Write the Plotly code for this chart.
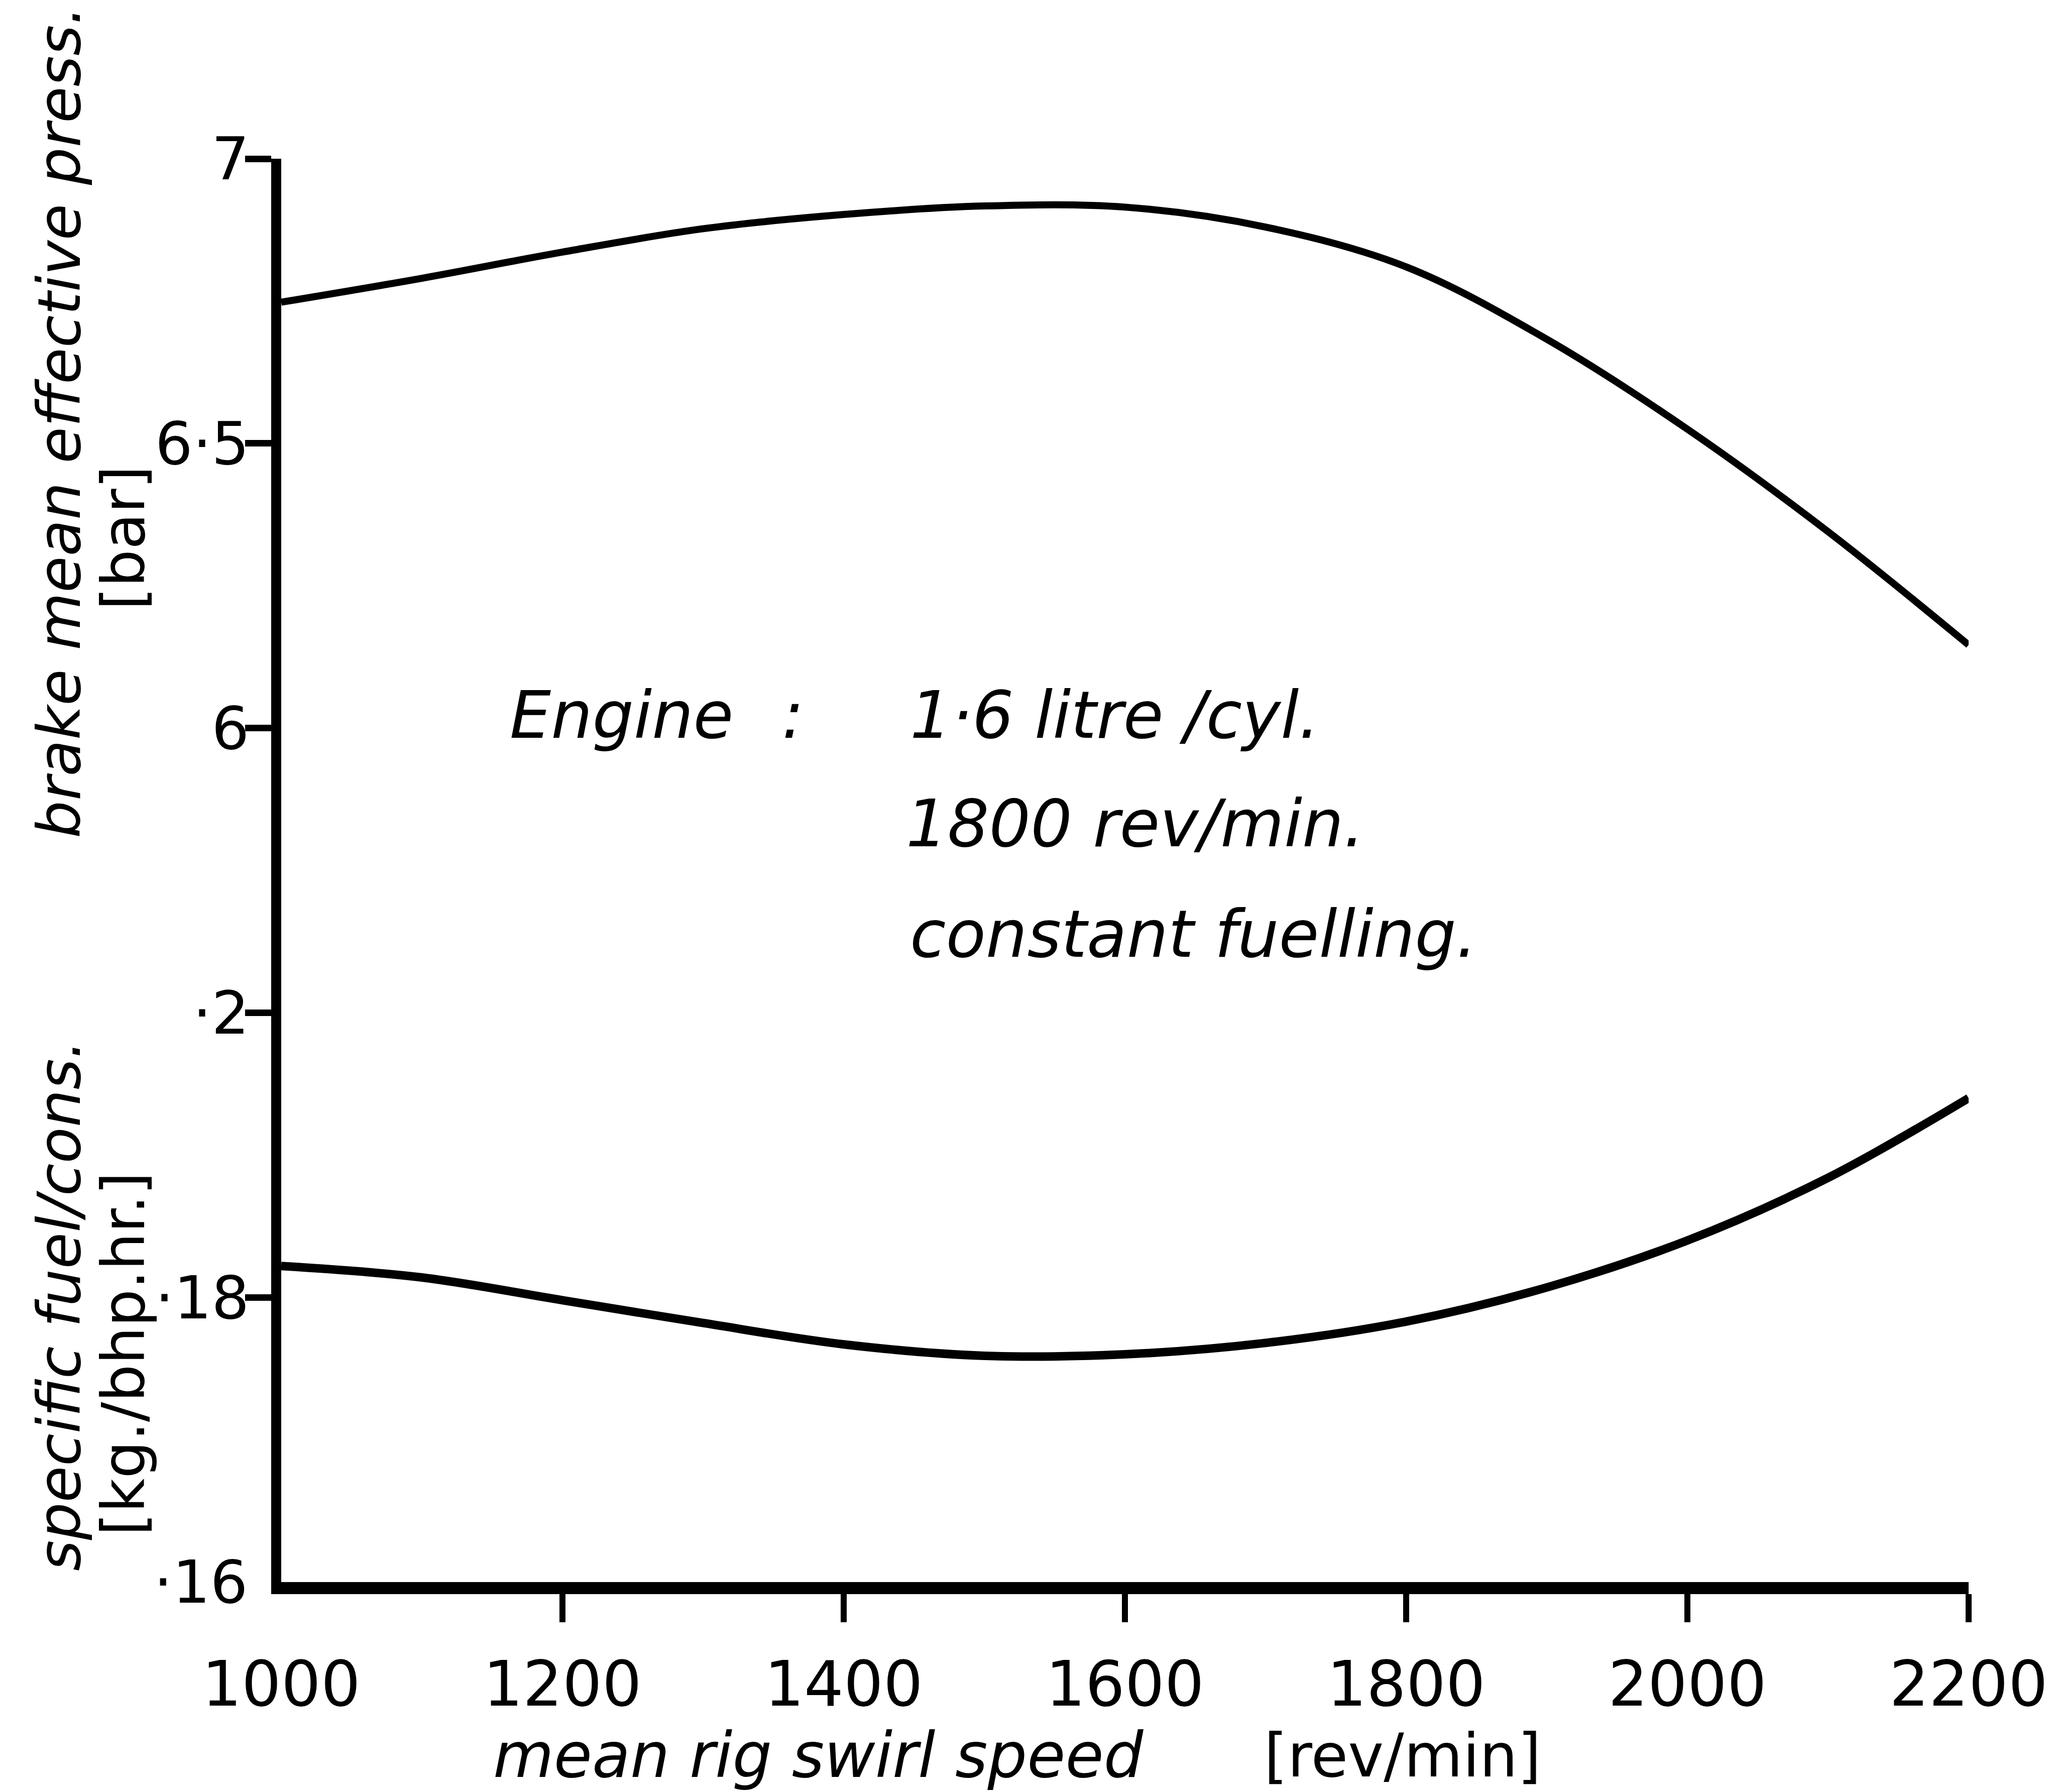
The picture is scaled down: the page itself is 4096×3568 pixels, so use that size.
import plotly.graph_objects as go

# Engine test: 1.6 litre/cyl, 1800 rev/min, constant fuelling
rpm = [1000, 1100, 1200, 1300, 1400, 1500, 1600, 1700, 1800, 1900, 2000, 2100, 2200]
bmep = [6.748, 6.790, 6.836, 6.877, 6.902, 6.917, 6.915, 6.880, 6.810, 6.683, 6.525, 6.345, 6.146]
sfc = [0.1822, 0.1814, 0.1798, 0.1782, 0.1767, 0.1759, 0.1760, 0.1768, 0.1783, 0.1807, 0.1840, 0.1884, 0.1940]

x_ticks = [1000, 1200, 1400, 1600, 1800, 2000, 2200]
x_labels = ["1000", "1200", "1400", "1600", "1800", "2000", "2200"]
bmep_ticks = [6, 6.5, 7]
bmep_labels = ["6", "6·5", "7"]
sfc_ticks = [0.18, 0.2]
sfc_labels = ["·18", "·2"]
sfc_base = 0.16
sfc_base_label = "·16"

FONT = "DejaVu Sans"
W, H = 4096, 3568
L, R, T, B = 560, 3920, 316, 3150
AXIS_W = 20
Y_TICKLEN = 52
Y_STANDOFF = -32


def px(xp):
    return (xp - L) / (R - L)


def py(yp):
    return (B - yp) / (B - T)


fig = go.Figure()
fig.add_trace(go.Scatter(
    x=rpm, y=bmep, mode="lines", xaxis="x", yaxis="y",
    line=dict(color="black", width=14, shape="spline", smoothing=1.0),
    showlegend=False, hoverinfo="skip"))
fig.add_trace(go.Scatter(
    x=rpm, y=sfc, mode="lines", xaxis="x2", yaxis="y2",
    line=dict(color="black", width=17, shape="spline", smoothing=1.0),
    showlegend=False, hoverinfo="skip"))

axis_common = dict(showgrid=False, zeroline=False, linecolor="black", tickcolor="black")

annotations = [
    # axis titles
    dict(text="<i>brake mean effective press.</i>", x=px(118), y=py(841), textangle=-90,
         font=dict(size=118)),
    dict(text="[bar]", x=px(246), y=py(1071), textangle=-90, font=dict(size=118)),
    dict(text="<i>specific fuel/cons.</i>", x=px(118), y=py(2599), textangle=-90,
         font=dict(size=118)),
    dict(text="[kg./bhp.hr.]", x=px(246), y=py(2696), textangle=-90, font=dict(size=118)),
    dict(text="<i>mean rig swirl speed</i>", x=px(980), y=py(3495), xanchor="left",
         font=dict(size=124)),
    dict(text="[rev/min]", x=px(2515), y=py(3495), xanchor="left", font=dict(size=120)),
    # engine details
    dict(text="<i>Engine</i>", x=px(1013), y=py(1424), xanchor="left", font=dict(size=130)),
    dict(text="<i>:</i>", x=px(1555), y=py(1424), xanchor="left", font=dict(size=130)),
    dict(text="<i>1·6 litre /cyl.</i>", x=px(1810), y=py(1424), xanchor="left",
         font=dict(size=130)),
    dict(text="<i>1800 rev/min.</i>", x=px(1802), y=py(1640), xanchor="left",
         font=dict(size=130)),
    dict(text="<i>constant fuelling.</i>", x=px(1810), y=py(1860), xanchor="left",
         font=dict(size=130)),
]
for a in annotations:
    a.update(xref="paper", yref="paper")
# label at the foot of the fuel-consumption scale (the corner carries no tick)
annotations.append(dict(text=sfc_base_label, xref="paper", yref="y2",
                        x=px(L - AXIS_W - Y_TICKLEN - 2 - Y_STANDOFF - 22), y=sfc_base,
                        xanchor="right", font=dict(size=118)))
for a in annotations:
    a["showarrow"] = False
    a.setdefault("xanchor", "center")
    a.setdefault("yanchor", "middle")
    a["font"].update(family=FONT, color="black")

# continuous vertical axis line through the break between the two scales
shapes = [dict(type="line", xref="paper", yref="paper",
               x0=px(L - AXIS_W / 2), x1=px(L - AXIS_W / 2), y0=0.39, y1=0.61,
               line=dict(color="black", width=AXIS_W))]

fig.update_layout(
    width=W, height=H,
    margin=dict(l=L, r=W - R, t=T, b=H - B, pad=0),
    paper_bgcolor="white", plot_bgcolor="rgba(0,0,0,0)",
    showlegend=False,
    xaxis=dict(domain=[0, 1], range=[1000, 2200], anchor="y2",
               tickmode="array", tickvals=x_ticks[1:], showticklabels=False,
               ticks="outside", ticklen=56, tickwidth=12,
               showline=True, linewidth=24, **axis_common),
    xaxis2=dict(overlaying="x", matches="x", range=[1000, 2200], anchor="y2",
                tickmode="array", tickvals=x_ticks, ticktext=x_labels,
                ticks="outside", ticklen=96, tickcolor="rgba(0,0,0,0)",
                showline=False, showgrid=False, zeroline=False,
                tickfont=dict(family=FONT, size=124, color="black")),
    yaxis=dict(domain=[0.6, 1], range=[6, 7], anchor="x",
               tickmode="array", tickvals=bmep_ticks, ticktext=bmep_labels,
               ticks="outside", ticklen=Y_TICKLEN, tickwidth=13, ticklabelstandoff=Y_STANDOFF,
               showline=True, linewidth=AXIS_W,
               tickfont=dict(family=FONT, size=118, color="black"), **axis_common),
    yaxis2=dict(domain=[0, 0.4], range=[0.16, 0.2], anchor="x",
                tickmode="array", tickvals=sfc_ticks, ticktext=sfc_labels,
                ticks="outside", ticklen=Y_TICKLEN, tickwidth=13, ticklabelstandoff=Y_STANDOFF,
                showline=True, linewidth=AXIS_W,
                tickfont=dict(family=FONT, size=118, color="black"), **axis_common),
    shapes=shapes,
    annotations=annotations,
)

fig.write_html("out.html")
